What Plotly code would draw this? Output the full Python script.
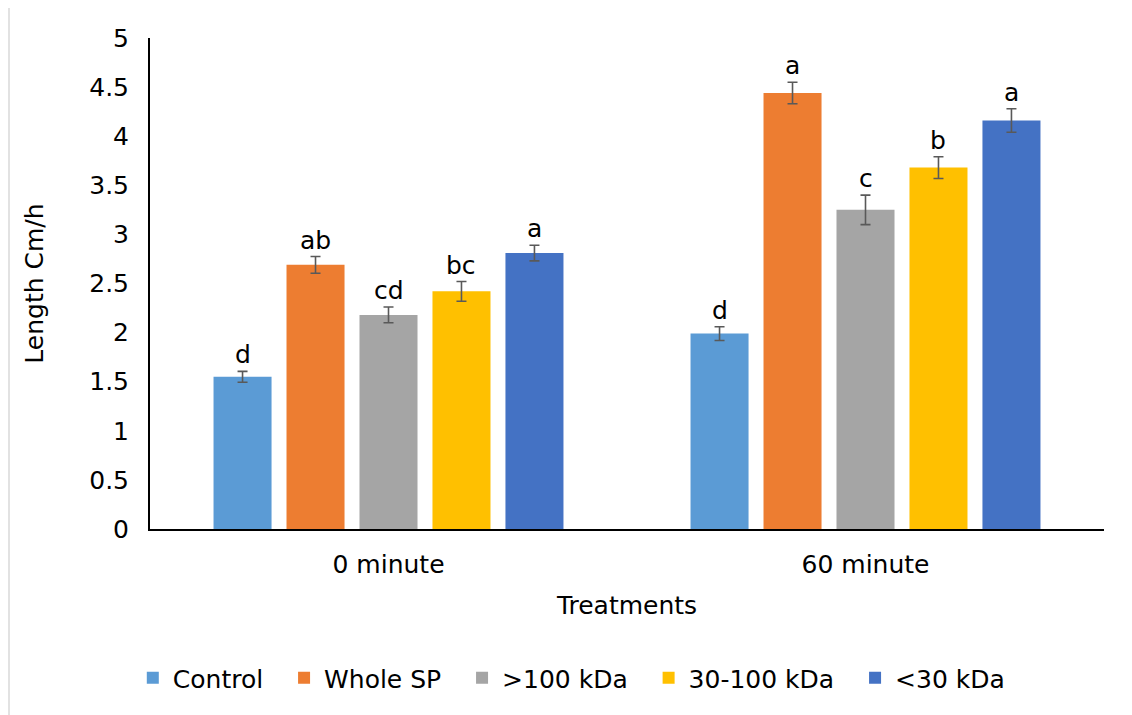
import plotly.graph_objects as go

categories = ["0 minute", "60 minute"]
series_names = ["Control", "Whole SP", ">100 kDa", "30-100 kDa", "<30 kDa"]
colors = ["#5B9BD5", "#ED7D31", "#A5A5A5", "#FFC000", "#4472C4"]
values = {
    "Control": [1.55, 1.99],
    "Whole SP": [2.69, 4.44],
    ">100 kDa": [2.18, 3.25],
    "30-100 kDa": [2.42, 3.68],
    "<30 kDa": [2.81, 4.16],
}
errors = {
    "Control": [0.055, 0.07],
    "Whole SP": [0.085, 0.11],
    ">100 kDa": [0.08, 0.15],
    "30-100 kDa": [0.1, 0.11],
    "<30 kDa": [0.08, 0.12],
}
letters = {
    "Control": ["d", "d"],
    "Whole SP": ["ab", "a"],
    ">100 kDa": ["cd", "c"],
    "30-100 kDa": ["bc", "b"],
    "<30 kDa": ["a", "a"],
}

FONT = "DejaVu Sans, Liberation Sans, Arial, sans-serif"
FS = 25
BARGAP = 0.235
GROUPGAP = 0.205
PAD = "\u00a0\u00a0"

fig = go.Figure()
for name, col in zip(series_names, colors):
    fig.add_trace(go.Bar(
        name=name + PAD, x=categories, y=values[name], marker_color=col,
        marker_line_width=0,
        error_y=dict(type="data", array=errors[name], color="#595959", thickness=1.6, width=5),
    ))

n = len(series_names)
group_w = 1 - BARGAP
slot = group_w / n
for i, name in enumerate(series_names):
    for j, cat in enumerate(categories):
        xoff = -group_w / 2 + slot * (i + 0.5)
        fig.add_annotation(
            x=j + xoff, y=values[name][j] + errors[name][j],
            text=letters[name][j], showarrow=False, yanchor="bottom",
            yshift=0, font=dict(size=FS, color="#000000", family=FONT),
        )

L, R, T, B = 142, 36, 30, 194
fig.update_layout(
    width=1132, height=715,
    margin=dict(l=L, r=R, t=T, b=B),
    paper_bgcolor="white", plot_bgcolor="white",
    barmode="group", bargap=BARGAP, bargroupgap=GROUPGAP,
    font=dict(family=FONT, size=FS, color="#000000"),
    showlegend=True,
    legend=dict(orientation="h", x=0.45, xanchor="center", y=-0.3035, yanchor="middle",
                font=dict(size=FS), itemwidth=30, traceorder="normal"),
    xaxis=dict(
        showline=True, linecolor="#000000", linewidth=2, ticks="",
        title=dict(text="Treatments", font=dict(size=FS), standoff=18),
        tickfont=dict(size=FS), range=[-0.5, 1.5], ticklabelstandoff=12,
    ),
    yaxis=dict(
        range=[0, 5], dtick=0.5, showgrid=False, zeroline=False,
        showline=True, linecolor="#000000", linewidth=2, ticks="",
        tickformat="~g", ticklabelstandoff=14,
        title=dict(text="Length Cm/h", font=dict(size=FS), standoff=38),
        tickfont=dict(size=FS),
    ),
    shapes=[dict(type="line", xref="paper", yref="paper",
                 x0=(1 - L) / 954, x1=(1 - L) / 954, y0=-0.4, y1=1.07,
                 line=dict(color="#D9D9D9", width=1.5))],
)

fig.write_html("out.html")
